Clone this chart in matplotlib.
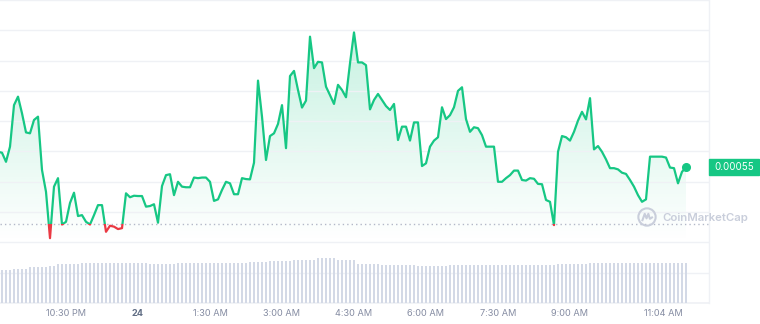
import matplotlib
matplotlib.use("Agg")
import matplotlib.pyplot as plt
import matplotlib.transforms as mtransforms
from matplotlib.patches import Rectangle, Circle
import numpy as np

plt.rcParams['font.family'] = ['Inter', 'DejaVu Sans']

# price in units of 1e-6, one point every 5 minutes starting 21:05
price = [
    554.9, 554.6, 551.6, 556.6, 570.3, 573.1, 567.6, 561.3, 561.0, 565.4,
    566.5, 548.9, 541.7, 526.4, 543.4, 546.2, 530.9, 531.8, 538.0, 541.4,
    533.7, 534.0, 531.8, 530.9, 534.0, 537.3, 537.3, 528.5, 530.5, 530.2,
    529.4, 529.7, 541.2, 539.9, 540.4, 540.3, 540.3, 536.8, 537.0, 537.6,
    531.5, 543.6, 547.2, 547.5, 540.6, 545.0, 543.4, 543.2, 543.2, 546.4,
    546.2, 546.4, 546.4, 545.0, 538.7, 539.2, 542.3, 545.0, 544.5, 540.9,
    540.9, 546.2, 545.9, 545.8, 551.3, 578.4, 566.5, 552.2, 560.1, 561.0,
    564.1, 570.3, 556.1, 579.9, 581.6, 575.3, 569.5, 571.8, 592.9, 582.5,
    584.6, 584.4, 576.4, 573.6, 570.7, 577.0, 575.3, 572.9, 584.1, 594.3,
    584.4, 584.4, 583.5, 568.9, 572.0, 574.0, 572.0, 570.0, 568.7, 570.7,
    558.8, 563.2, 563.2, 558.6, 564.6, 564.6, 550.2, 551.1, 556.6, 558.6,
    559.7, 569.6, 565.7, 567.0, 569.6, 575.0, 576.2, 565.7, 561.5, 563.0,
    562.7, 560.4, 556.6, 556.6, 556.6, 545.0, 545.0, 546.2, 547.2, 548.7,
    548.7, 545.6, 545.4, 546.2, 546.0, 544.3, 544.2, 539.0, 538.4, 530.7,
    554.9, 560.1, 559.7, 558.6, 561.5, 565.2, 568.1, 565.6, 572.6, 555.7,
    556.8, 554.9, 552.4, 549.5, 549.5, 549.1, 548.0, 547.6, 545.6, 543.4,
    540.6, 538.4, 539.2, 553.3, 553.3, 553.3, 553.3, 553.0, 549.7, 549.5,
    544.5, 548.3, 549.8,
]

# volume (arbitrary units), same 5 minute steps
volume = [
    3.30, 3.30, 3.30, 3.30, 3.43, 3.43, 3.43, 3.43, 3.57, 3.57,
    3.57, 3.57, 3.57, 3.70, 3.70, 3.87, 3.87, 3.87, 3.87, 3.87,
    3.87, 3.97, 3.97, 3.97, 3.97, 3.97, 3.97, 3.97, 3.97, 3.97,
    3.97, 3.97, 4.03, 4.03, 4.03, 4.03, 4.03, 4.03, 3.90, 3.90,
    3.90, 3.90, 3.90, 3.90, 3.90, 3.97, 3.97, 3.97, 3.97, 3.97,
    3.97, 3.97, 3.97, 3.97, 3.97, 3.97, 3.97, 3.97, 3.97, 3.97,
    3.97, 3.97, 3.97, 4.07, 4.07, 4.07, 4.07, 4.07, 4.20, 4.20,
    4.20, 4.20, 4.20, 4.20, 4.33, 4.33, 4.33, 4.33, 4.33, 4.33,
    4.50, 4.50, 4.50, 4.50, 4.50, 4.30, 4.30, 4.30, 4.30, 4.30,
    3.90, 3.90, 3.90, 3.90, 3.90, 3.90, 3.80, 3.80, 3.80, 3.80,
    3.80, 3.80, 3.80, 3.80, 3.80, 3.73, 3.73, 3.73, 3.73, 3.73,
    3.73, 3.73, 3.73, 3.77, 3.77, 3.77, 3.77, 3.77, 3.77, 3.77,
    3.77, 3.77, 3.77, 3.77, 3.77, 3.83, 3.83, 3.83, 3.83, 3.83,
    3.83, 3.83, 3.83, 3.83, 3.83, 3.83, 3.83, 3.83, 3.83, 3.83,
    3.90, 3.90, 3.90, 3.90, 3.90, 3.90, 3.90, 3.90, 3.97, 3.97,
    3.97, 3.97, 3.97, 3.97, 3.97, 3.97, 3.97, 3.97, 3.97, 3.97,
    3.97, 3.97, 3.97, 4.00, 4.00, 4.00, 4.00, 4.00, 4.00, 4.00,
    4.00, 4.00, 4.00,
]

open_price = 531.1
tick_hours = [22.5, 24, 25.5, 27, 28.5, 30, 31.5, 33, 34.94]
tick_labels = ['10:30 PM', '24', '1:30 AM', '3:00 AM', '4:30 AM',
               '6:00 AM', '7:30 AM', '9:00 AM', '11:04 AM']

GREEN = '#16c784'
RED = '#ea3943'
GRID = '#eff1f5'

price = np.array(price)
hours = 21 + 5 / 60 + np.arange(len(price)) * 5 / 60

fig = plt.figure(figsize=(7.6, 3.24), dpi=100)
ax = fig.add_axes([0, 21 / 324, 709 / 760, 303 / 324])
x0, x1 = 21.125, 21.125 + 709 / 48
ylo, yhi = 505, 605

# gradient fill under the line
poly = ax.fill_between(hours, price, 525, facecolor='none', edgecolor='none')
n = 256
rgba = np.zeros((n, 1, 4))
rgba[:, 0, :3] = matplotlib.colors.to_rgb(GREEN)
rgba[:, 0, 3] = np.linspace(0.24, 0.0, n)
img = ax.imshow(rgba, extent=[hours[0], hours[-1], 525, price.max()],
                aspect='auto', origin='upper', zorder=1)
img.set_clip_path(poly.get_paths()[0], ax.transData)

# line: green above the open price, red below
big = 1000
above = Rectangle((0, open_price), 100, big, transform=ax.transData)
below = Rectangle((0, open_price - big), 100, big, transform=ax.transData)
lg, = ax.plot(hours, price, color=GREEN, lw=1.6, zorder=3, solid_joinstyle='round')
lr, = ax.plot(hours, price, color=RED, lw=1.6, zorder=3, solid_joinstyle='round')
lg.set_clip_path(above)
lr.set_clip_path(below)
ax.plot(hours[-1], price[-1], 'o', ms=5.5, color=GREEN, zorder=4)

ax.axhline(open_price, color='#b3b8c8', lw=1, ls=(0, (1, 2.2)), zorder=2)

ax.set_xlim(x0, x1)
ax.set_ylim(ylo, yhi)
ax.set_yticks(np.arange(ylo, yhi + 1, 10))
ax.yaxis.set_ticklabels([])
ax.tick_params(axis='y', length=0)
ax.grid(axis='y', color=GRID, lw=1)
ax.axhline(ylo, color=GRID, lw=1.2, clip_on=False)
for s in ['top', 'left', 'bottom']:
    ax.spines[s].set_visible(False)
ax.spines['right'].set_color(GRID)
ax.spines['right'].set_linewidth(1)

ax.set_xticks(tick_hours)
ax.set_xticklabels(tick_labels)
ax.tick_params(axis='x', length=0, pad=4.5, labelsize=6.6, labelcolor='#858ca2')
ax.get_xticklabels()[1].set_fontweight('bold')
ax.get_xticklabels()[1].set_color('#616e85')

# volume bars
ax2 = ax.twinx()
ax2.bar(hours, volume, width=0.056, color='#d3d9e6', zorder=1)
ax2.set_ylim(0, 30.3)
ax2.set_xlim(x0, x1)
ax2.axis('off')

# current price tag
tr = mtransforms.blended_transform_factory(fig.transFigure, ax.transData)
fig.patches.append(Rectangle((709 / 760, price[-1] - 2.6), 50 / 760, 5.2,
                             transform=tr, color=GREEN, clip_on=False))
fig.text(734 / 760, price[-1], f"{price[-1] * 1e-6:.5f}", transform=tr,
         ha='center', va='center', color='white', fontsize=7)

# watermark
wm = '#c9cedb'
fig.text(662 / 760, (324 - 218) / 324, 'CoinMarketCap', ha='left', va='center',
         color=wm, fontsize=8.2, fontweight='semibold')
lax = fig.add_axes([637 / 760, (324 - 227) / 324, 20 / 760, 20 / 324])
lax.set_xlim(-1.1, 1.1)
lax.set_ylim(-1.1, 1.1)
lax.axis('off')
lax.add_patch(Circle((0, 0), 0.95, fill=False, ec=wm, lw=1.5))
lax.plot([-0.5, -0.25, -0.05, 0.15, 0.32, 0.55], [-0.35, 0.35, -0.15, 0.35, -0.2, -0.05],
         color=wm, lw=1.5, solid_joinstyle='round')

fig.savefig('out.png', dpi=100)
